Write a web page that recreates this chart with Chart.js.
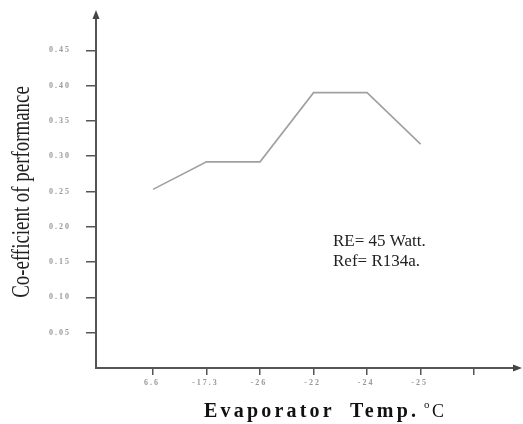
<!DOCTYPE html>
<html>
<head>
<meta charset="utf-8">
<script src="https://cdn.jsdelivr.net/npm/chart.js@4.4.0/dist/chart.umd.min.js"></script>
<style>
  html, body { margin: 0; padding: 0; background: #fff; }
  #wrap { width: 523px; height: 424px; }
</style>
</head>
<body>
<div id="wrap"><canvas id="c"></canvas></div>
<script>
// evaporator temperature categories (as printed on the x axis)
var categories = ['6.6', '-17.3', '-26', '-22', '-24', '-25', ''];
// COP
var copValues = [0.253, 0.292, 0.292, 0.390, 0.390, 0.317];
var yTicks = [0.05, 0.10, 0.15, 0.20, 0.25, 0.30, 0.35, 0.40, 0.45];
var notes = ['RE= 45 Watt.', 'Ref= R134a.'];

var points = copValues.map(function(v, i) { return { x: i + 1, y: v }; });

var extras = {
  id: 'extras',
  afterDraw: function(chart) {
    var ctx = chart.ctx;
    var xs = chart.scales.x, ys = chart.scales.y;
    var left = xs.left, bottom = ys.bottom, top = ys.top, right = xs.right;
    ctx.save();
    ctx.fillStyle = '#444';
    // arrow on y axis
    ctx.beginPath();
    ctx.moveTo(left, top - 5);
    ctx.lineTo(left - 3.5, top + 4);
    ctx.lineTo(left + 3.5, top + 4);
    ctx.closePath();
    ctx.fill();
    // arrow on x axis
    ctx.beginPath();
    ctx.moveTo(right + 4, bottom);
    ctx.lineTo(right - 5, bottom - 3.5);
    ctx.lineTo(right - 5, bottom + 3.5);
    ctx.closePath();
    ctx.fill();

    // tick labels, widely spaced like the scan
    ctx.fillStyle = '#999';
    ctx.font = 'bold 8px "Liberation Serif"';
    ctx.letterSpacing = '2px';
    ctx.textBaseline = 'middle';
    ctx.textAlign = 'center';
    yTicks.forEach(function(v) {
      ctx.fillText(v.toFixed(2), 60, ys.getPixelForValue(v));
    });
    categories.forEach(function(c, i) {
      ctx.fillText(c, xs.getPixelForValue(i + 1) - 1, 383);
    });
    ctx.letterSpacing = '0px';

    // y title
    ctx.save();
    ctx.translate(22, 192);
    ctx.rotate(-Math.PI / 2);
    ctx.scale(0.9, 1.2);
    ctx.fillStyle = '#222';
    ctx.font = '21px "Liberation Serif"';
    ctx.textAlign = 'center';
    ctx.textBaseline = 'middle';
    ctx.fillText('Co-efficient of performance', 0, 0);
    ctx.restore();

    // x title
    ctx.fillStyle = '#111';
    ctx.font = 'bold 20px "Liberation Serif"';
    ctx.textBaseline = 'alphabetic';
    ctx.textAlign = 'left';
    ctx.letterSpacing = '3.2px';
    ctx.fillText('Evaporator', 204, 417);
    ctx.fillText('Temp.', 350, 417);
    ctx.letterSpacing = '0px';
    ctx.font = '11px "Liberation Serif"';
    ctx.fillText('o', 424, 408);
    ctx.font = '18px "Liberation Serif"';
    ctx.fillText('C', 432, 417);

    // notes
    ctx.fillStyle = '#222';
    ctx.font = '17px "Liberation Serif"';
    ctx.fillText(notes[0], 333, 246);
    ctx.fillText(notes[1], 333, 266);
    ctx.restore();
  }
};

new Chart(document.getElementById('c'), {
  type: 'line',
  data: {
    datasets: [{
      data: points,
      borderColor: '#a0a0a0',
      borderWidth: 1.6,
      pointRadius: 0,
      tension: 0,
      fill: false
    }]
  },
  options: {
    responsive: true,
    maintainAspectRatio: false,
    animation: false,
    layout: { padding: { top: 15, right: 5, left: 0, bottom: 0 } },
    plugins: { legend: { display: false }, tooltip: { enabled: false } },
    scales: {
      x: {
        type: 'linear',
        min: -0.065,
        max: 7.82,
        afterBuildTicks: function(s) {
          s.ticks = categories.map(function(c, i) { return { value: i + 1 }; });
        },
        afterFit: function(s) { s.height = 56; },
        border: { display: true, color: '#555', width: 2 },
        grid: { drawOnChartArea: false, drawTicks: true, tickLength: 7, color: '#555', lineWidth: 1.5 },
        ticks: { display: false }
      },
      y: {
        min: 0,
        max: 0.5,
        afterBuildTicks: function(s) {
          s.ticks = yTicks.map(function(v) { return { value: v }; });
        },
        afterFit: function(s) { s.width = 96; },
        border: { display: true, color: '#555', width: 2 },
        grid: { drawOnChartArea: false, drawTicks: true, tickLength: 10, color: '#555', lineWidth: 1.5 },
        ticks: { display: false }
      }
    }
  },
  plugins: [extras]
});
</script>
</body>
</html>
